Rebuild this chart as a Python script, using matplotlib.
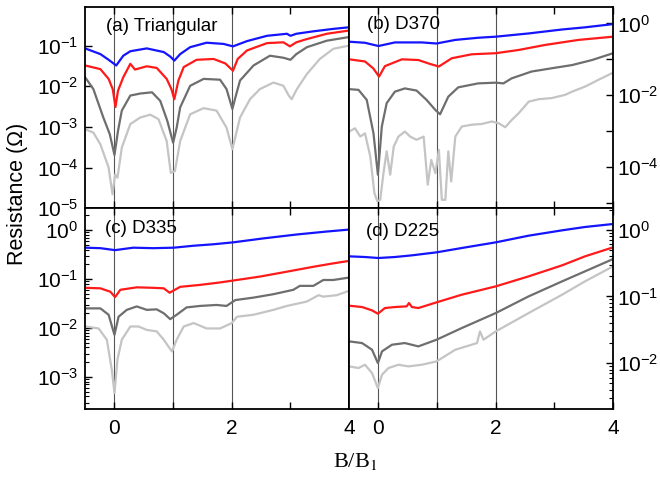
import numpy as np
import matplotlib.pyplot as plt

plt.rcParams['font.family'] = ['Liberation Sans', 'DejaVu Sans']
plt.rcParams['mathtext.fontset'] = 'custom'
plt.rcParams['mathtext.rm'] = 'Liberation Sans'
plt.rcParams['mathtext.it'] = 'Liberation Sans:italic'
plt.rcParams['mathtext.bf'] = 'Liberation Sans:bold'

# values: B/B1 and log10(R / Ohm)
# (a) Triangular
a_blue_x = [-0.5, -0.24, -0.1, 0.03, 0.15, 0.27, 0.55, 0.84, 0.95, 1.02, 1.12, 1.29, 1.57, 1.86, 2.02,
            2.26, 2.6, 2.94, 3.0, 3.1, 3.39, 3.73, 4.0]
a_blue_y = [-1.07, -1.21, -1.35, -1.49, -1.25, -1.14, -1.07, -1.16, -1.27, -1.37, -1.21, -1.04, -0.93, -0.96, -1.02,
            -0.89, -0.76, -0.71, -0.76, -0.71, -0.65, -0.59, -0.55]
a_red_x = [-0.5, -0.24, -0.1, -0.03, 0.017, 0.06, 0.15, 0.27, 0.35, 0.55, 0.72, 0.89, 0.97, 1.02, 1.09, 1.18,
           1.4, 1.69, 1.89, 2.02, 2.1, 2.26, 2.6, 2.88, 2.99, 3.1, 3.28, 3.62, 4.0]
a_red_y = [-1.49, -1.58, -1.82, -2.07, -2.51, -2.11, -1.78, -1.45, -1.59, -1.51, -1.55, -1.82, -2.07, -2.32, -1.86, -1.53,
           -1.35, -1.33, -1.44, -1.62, -1.33, -1.12, -0.94, -0.92, -1.02, -0.92, -0.84, -0.71, -0.63]
a_dark_x = [-0.5, -0.36, -0.19, -0.08, 0.0, 0.06, 0.125, 0.27, 0.44, 0.64, 0.78, 0.9, 1.0, 1.06, 1.12, 1.29,
            1.52, 1.8, 1.91, 2.01, 2.06, 2.14, 2.37, 2.65, 2.88, 3.0, 3.1, 3.28, 3.62, 4.0]
a_dark_y = [-1.78, -2.07, -2.77, -3.18, -3.69, -3.1, -2.6, -2.23, -2.18, -2.15, -2.36, -2.85, -3.39, -3.02, -2.52, -1.99,
            -1.82, -1.84, -2.07, -2.56, -2.28, -1.86, -1.49, -1.25, -1.3, -1.35, -1.21, -1.04, -0.88, -0.79]
a_light_x = [-0.5, -0.36, -0.24, -0.1, -0.034, 0.011, 0.051, 0.125, 0.27, 0.44, 0.61, 0.75, 0.89, 0.96, 1.03,
             1.12, 1.29, 1.52, 1.74, 1.91, 2.01, 2.14, 2.31, 2.48, 2.71, 2.88, 2.97, 3.02, 3.11, 3.28, 3.5,
             3.73, 4.0]
a_light_y = [-3.06, -3.14, -3.43, -4.0, -4.66, -4.17, -4.25, -3.51, -2.93, -2.77, -2.7, -2.81, -3.35, -4.13, -4.09,
             -3.35, -2.69, -2.54, -2.6, -3.02, -3.55, -2.77, -2.32, -2.07, -1.91, -1.99, -2.23, -2.32, -2.07, -1.7, -1.33,
             -1.08, -1.0]

# (b) D370
b_blue_x = [-0.5, -0.23, 0.0, 0.28, 0.74, 0.99, 1.31, 1.7, 2.0, 2.56, 3.13, 3.52, 4.0]
b_blue_y = [-0.51, -0.54, -0.63, -0.53, -0.53, -0.56, -0.46, -0.40, -0.37, -0.28, -0.17, -0.11, -0.02]
b_red_x = [-0.5, -0.23, -0.09, 0.01, 0.11, 0.4, 0.68, 0.88, 1.03, 1.25, 1.59, 2.0, 2.39, 2.84, 3.41, 4.0]
b_red_y = [-1.0, -1.06, -1.25, -1.48, -1.19, -1.0, -1.02, -1.13, -1.2, -0.97, -0.86, -0.83, -0.74, -0.6, -0.46, -0.37]
b_dark_x = [-0.5, -0.34, -0.2, -0.085, -0.01, 0.057, 0.14, 0.28, 0.45, 0.65, 0.82, 0.97, 1.05, 1.19, 1.36, 1.7,
            2.0, 2.13, 2.27, 2.61, 2.95, 3.3, 3.64, 4.0]
b_dark_y = [-1.83, -1.85, -2.13, -3.06, -4.21, -2.87, -2.22, -1.9, -1.81, -1.87, -2.13, -2.41, -2.53, -2.04, -1.78, -1.67,
            -1.65, -1.67, -1.53, -1.34, -1.25, -1.16, -1.02, -0.83]
b_light_x = [-0.5, -0.40, -0.31, -0.23, -0.14, -0.07, -0.02, 0.03, 0.085, 0.14, 0.2, 0.26, 0.34, 0.45, 0.54, 0.65,
             0.77, 0.84, 0.9, 0.97, 1.03, 1.08, 1.14, 1.19, 1.24, 1.31, 1.42, 1.59, 1.76, 1.93, 2.05, 2.16,
             2.27, 2.39, 2.56, 2.73, 2.95, 3.18, 3.3, 3.52, 3.75, 4.0]
b_light_y = [-3.01, -2.92, -3.15, -3.06, -3.70, -4.72, -4.95, -4.91, -4.17, -3.56, -4.21, -3.43, -3.15, -3.01, -3.15, -3.24,
             -3.15, -4.49, -3.80, -4.17, -3.52, -4.91, -4.91, -3.56, -4.40, -3.15, -2.87, -2.82, -2.80, -2.73, -2.78, -2.89,
             -2.69, -2.5, -2.18, -2.11, -2.08, -1.99, -1.90, -1.76, -1.57, -1.37]

# (c) D335
c_blue_x = [-0.5, -0.24, 0.01, 0.32, 0.66, 1.01, 1.35, 1.69, 2.03, 2.54, 3.11, 3.62, 4.0]
c_blue_y = [-0.36, -0.37, -0.41, -0.36, -0.37, -0.36, -0.32, -0.29, -0.25, -0.17, -0.09, -0.03, 0.01]
c_red_x = [-0.5, -0.24, -0.07, 0.01, 0.1, 0.38, 0.66, 0.84, 0.94, 1.12, 1.46, 1.8, 2.03, 2.48, 2.94, 3.39, 3.73, 4.0]
c_red_y = [-1.18, -1.19, -1.26, -1.37, -1.22, -1.17, -1.18, -1.19, -1.28, -1.16, -1.12, -1.07, -1.03, -0.95, -0.85, -0.75,
           -0.68, -0.63]
c_dark_x = [-0.5, -0.24, -0.1, 0.0, 0.07, 0.21, 0.38, 0.55, 0.72, 0.84, 0.95, 1.06, 1.23, 1.46, 1.74, 1.91, 2.06,
            2.37, 2.71, 3.05, 3.16, 3.39, 3.56, 3.73, 4.0]
c_dark_y = [-1.6, -1.6, -1.73, -2.14, -1.77, -1.63, -1.56, -1.63, -1.62, -1.7, -1.82, -1.73, -1.58, -1.55, -1.53, -1.55,
            -1.43, -1.38, -1.31, -1.22, -1.14, -1.14, -1.02, -1.02, -0.97]
c_light_x = [-0.5, -0.27, -0.13, -0.045, 0.0, 0.05, 0.125, 0.27, 0.41, 0.55, 0.72, 0.84, 0.92, 0.98, 1.06, 1.18,
             1.35, 1.57, 1.8, 2.0, 2.09, 2.37, 2.71, 2.94, 3.28, 3.48, 3.56, 3.79, 4.0]
c_light_y = [-1.97, -2.01, -2.24, -2.86, -3.33, -2.65, -2.24, -1.97, -1.97, -2.04, -2.07, -2.24, -2.38, -2.48, -2.24,
             -1.97, -1.9, -2.01, -2.01, -1.9, -1.77, -1.73, -1.63, -1.55, -1.46, -1.33, -1.36, -1.33, -1.24]

# (d) D225
d_blue_x = [-0.5, -0.23, 0.0, 0.28, 0.57, 0.99, 1.42, 2.0, 2.56, 3.13, 3.52, 4.0]
d_blue_y = [-0.4, -0.41, -0.425, -0.41, -0.385, -0.34, -0.275, -0.19, -0.09, -0.01, 0.04, 0.085]
d_red_x = [-0.5, -0.28, -0.11, -0.01, 0.11, 0.28, 0.48, 0.52, 0.57, 0.68, 0.99, 1.42, 2.0, 2.56, 3.13, 3.52, 4.0]
d_red_y = [-1.14, -1.16, -1.21, -1.26, -1.175, -1.16, -1.15, -1.1, -1.16, -1.175, -1.09, -0.975, -0.85, -0.7, -0.535,
           -0.4, -0.265]
d_dark_x = [-0.5, -0.28, -0.11, -0.01, 0.06, 0.23, 0.45, 0.68, 0.99, 1.42, 2.0, 2.56, 3.13, 3.52, 4.0]
d_dark_y = [-1.675, -1.7, -1.8, -2.0, -1.825, -1.725, -1.7, -1.75, -1.65, -1.475, -1.25, -1.0, -0.775, -0.625, -0.44]
d_light_x = [-0.5, -0.34, -0.23, -0.11, -0.01, 0.06, 0.17, 0.34, 0.51, 0.74, 0.99, 1.31, 1.68, 1.73, 1.79, 2.0,
             2.56, 3.13, 3.52, 4.0]
d_light_y = [-2.05, -2.075, -2.025, -2.15, -2.375, -2.175, -2.075, -2.025, -2.05, -2.025, -1.975, -1.8, -1.7, -1.525,
             -1.65, -1.525, -1.25, -0.975, -0.775, -0.55]

panel_titles = ['(a) Triangular', '(b) D370', '(c) D335', '(d) D225']
ylims = [(1e-5, 0.9), (7.2e-6, 2.9), (2.2e-4, 2.8), (2.04e-3, 2.1)]
ytick_exps = [[-1, -2, -3, -4, -5], [0, -1, -2, -3, -4, -5], [0, -1, -2, -3], [0, -1, -2]]
ytick_shown = [[-1, -2, -3, -4, -5], [0, -2, -4], [0, -1, -2, -3], [0, -1, -2]]
match_lines = [0, 1, 2]

series = [
    [(a_blue_x, a_blue_y), (a_red_x, a_red_y), (a_dark_x, a_dark_y), (a_light_x, a_light_y)],
    [(b_blue_x, b_blue_y), (b_red_x, b_red_y), (b_dark_x, b_dark_y), (b_light_x, b_light_y)],
    [(c_blue_x, c_blue_y), (c_red_x, c_red_y), (c_dark_x, c_dark_y), (c_light_x, c_light_y)],
    [(d_blue_x, d_blue_y), (d_red_x, d_red_y), (d_dark_x, d_dark_y), (d_light_x, d_light_y)],
]
colors = ['#1414ff', '#ff1a1a', '#6e6e6e', '#c4c4c4']

fig = plt.figure(figsize=(6.6, 4.83), dpi=100)
L, M, R = 0.129, 0.529, 0.929
B, MID, T = 0.153, 0.569, 0.986
rects = [(L, MID, M - L, T - MID), (M, MID, R - M, T - MID),
         (L, B, M - L, MID - B), (M, B, R - M, MID - B)]

for i in range(4):
    ax = fig.add_axes(rects[i])
    for xv in match_lines:
        ax.axvline(xv, color='#555555', lw=0.8, zorder=1)
    # light first so the blue sits on top
    for (xs, ys), c in reversed(list(zip(series[i], colors))):
        ax.plot(xs, 10 ** np.array(ys), color=c, lw=1.6, zorder=2)
    ax.set_yscale('log')
    ax.set_xlim(-0.5, 4)
    ax.set_ylim(*ylims[i])
    ax.set_xticks([0, 1, 2, 3, 4])
    if i >= 2:
        ax.set_xticklabels(['0', '', '2', '', '4'])
    else:
        ax.set_xticklabels([])
    ax.set_yticks([10.0 ** e for e in ytick_exps[i]])
    ax.set_yticklabels([r'$10^{%d}$' % e if e in ytick_shown[i] else '' for e in ytick_exps[i]])
    right = (i % 2 == 1)
    ax.tick_params(axis='x', which='both', direction='in', top=True, bottom=True,
                   length=5, width=1, labelsize=15, pad=7)
    ax.tick_params(axis='y', which='major', direction='in', length=5, width=1,
                   left=not right, right=right, labelleft=not right, labelright=right,
                   labelsize=15, pad=3 if right else 5)
    ax.tick_params(axis='y', which='minor', direction='in', length=3, width=0.8,
                   left=not right, right=right)
    for s in ax.spines.values():
        s.set_linewidth(1.3)
    tx = [0.08, 0.068, 0.076, 0.064][i]
    ty = [0.904, 0.914, 0.90, 0.884][i]
    ax.text(tx, ty, panel_titles[i], transform=ax.transAxes, fontsize=13.5, va='center', ha='left')

fig.text(0.027, 0.598, 'Resistance (\u03a9)', rotation=90, fontsize=15.5, va='center', ha='center')
fig.text(0.538, 0.045, 'B/B$_1$', fontsize=16, va='center', ha='center',
         family='Liberation Serif', math_fontfamily='stix')

fig.savefig('out.png', dpi=100)
